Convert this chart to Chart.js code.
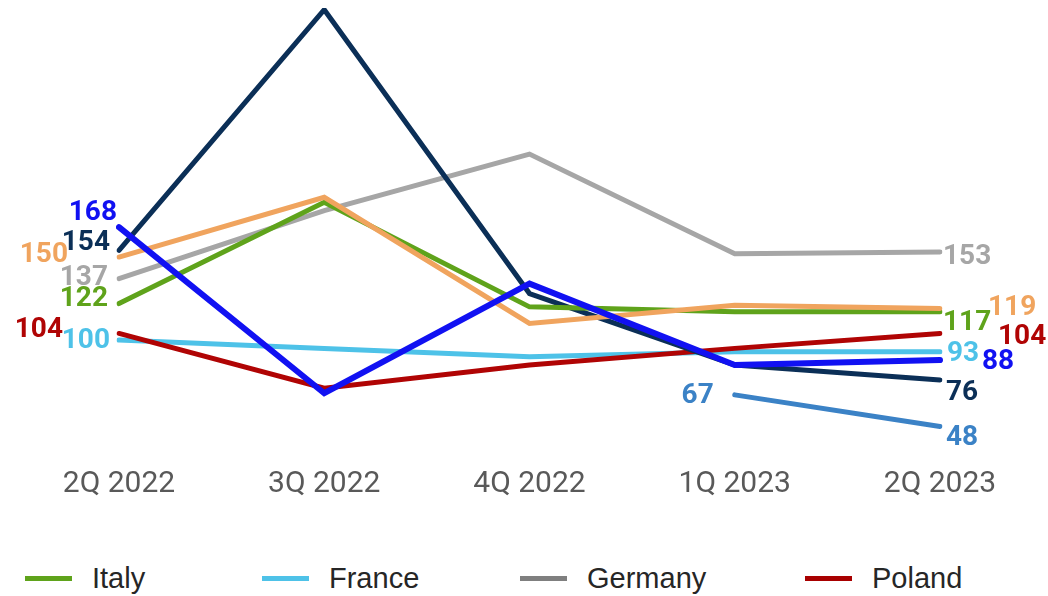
<html>
<head>
<meta charset="utf-8">
<style>
  body { margin: 0; background: #fff; }
  #wrap { position: relative; width: 1048px; height: 596px; }
  #legend { position: absolute; left: 0; top: 562px; width: 1048px; height: 32px; }
  .item { position: absolute; top: 0; height: 32px; display: flex; align-items: center;
          font-family: "Liberation Sans", Arial, sans-serif; font-size: 29px; color: #262626; }
  .item span.sw { display: inline-block; width: 47px; height: 5px; margin-right: 20px; }
</style>
</head>
<body>
<div id="wrap">
  <canvas id="myChart" width="1048" height="520"></canvas>
  <div id="legend"></div>
</div>
<script src="https://cdn.jsdelivr.net/npm/chart.js@4.4.0/dist/chart.umd.min.js"></script>
<script>
var quarters = ['2Q 2022', '3Q 2022', '4Q 2022', '1Q 2023', '2Q 2023'];

var italy   = [122, 183, 120, 117, 117];
var france  = [100, 95, 90, 93, 93];
var germany = [137, 178, 212, 152, 153];
var poland  = [104, 71, 85, 95, 104];
var spain   = [154, 299, 128, 85, 76];
var uk      = [150, 186, 110, 121, 119];
var nordics = [168, 68, 134, 85, 88];
var benelux = [null, null, null, 67, 48];

// first entry is drawn on top
var series = [
  { name: 'Nordics', data: nordics, color: '#1111f2', width: 6 },
  { name: 'UK',      data: uk,      color: '#f0a45e', width: 5 },
  { name: 'Italy',   data: italy,   color: '#5fa31b', width: 5, legend: '#5fa31b' },
  { name: 'Spain',   data: spain,   color: '#0b2f57', width: 5 },
  { name: 'Poland',  data: poland,  color: '#b00404', width: 5, legend: '#a80000' },
  { name: 'France',  data: france,  color: '#4ec2e8', width: 5, legend: '#4ec2e8' },
  { name: 'Germany', data: germany, color: '#a6a6a6', width: 5, legend: '#7f7f7f' },
  { name: 'Benelux', data: benelux, color: '#3b82c6', width: 5 }
];

// where the end-point numbers sit relative to their point: [dx, dy]
var firstNudge = { Nordics: [-2, -14], UK: [-51, -2], Italy: [-11, -5], Spain: [-9, -7],
                   Poland: [-56, -3], France: [-9, 1], Germany: [-11, -1], Benelux: [-21, 1] };
var lastNudge  = { Nordics: [42, 2], UK: [48, -1], Italy: [3, 11], Spain: [6, 13],
                   Poland: [58, 4], France: [7, 2], Germany: [3, 5], Benelux: [6, 12] };

var legendOrder = ['Italy', 'France', 'Germany', 'Poland'];
var legendLeft  = [25, 262, 520, 805];

var endLabels = {
  id: 'endLabels',
  afterDatasetsDraw: function(chart) {
    var ctx = chart.ctx;
    ctx.save();
    ctx.font = 'bold 28px Roboto, "Liberation Sans", sans-serif';
    ctx.textBaseline = 'middle';
    chart.data.datasets.forEach(function(ds, di) {
      var meta = chart.getDatasetMeta(di);
      var first = -1, last = -1;
      ds.data.forEach(function(v, i) {
        if (v === null) return;
        if (first < 0) first = i;
        last = i;
      });
      ctx.fillStyle = ds.borderColor;
      var p = meta.data[first], n = firstNudge[ds.label];
      ctx.textAlign = 'right';
      ctx.fillText(String(ds.data[first]), p.x + n[0], p.y + n[1]);
      p = meta.data[last]; n = lastNudge[ds.label];
      ctx.textAlign = 'left';
      ctx.fillText(String(ds.data[last]), p.x + n[0], p.y + n[1]);
    });
    ctx.restore();
  }
};

var ctx = document.getElementById('myChart').getContext('2d');
var chart = new Chart(ctx, {
  type: 'line',
  data: {
    labels: quarters,
    datasets: series.map(function(s) {
      return {
        label: s.name,
        data: s.data,
        borderColor: s.color,
        backgroundColor: s.color,
        borderWidth: s.width,
        pointRadius: 0,
        tension: 0,
        borderCapStyle: 'round',
        borderJoinStyle: 'miter',
        fill: false
      };
    })
  },
  options: {
    responsive: false,
    animation: false,
    layout: { padding: { left: 119, right: 108, top: 8, bottom: 0 } },
    plugins: { legend: { display: false }, tooltip: { enabled: false } },
    scales: {
      x: {
        offset: false,
        grid: { display: false },
        border: { display: false },
        ticks: { color: '#595959', padding: 10, font: { family: 'Roboto', size: 30 } },
        afterFit: function(scale) { scale.height = 72; }
      },
      y: { display: false, min: 35, max: 300 }
    }
  },
  plugins: [endLabels]
});

// legend for the four main markets
var legend = document.getElementById('legend');
legendOrder.forEach(function(name, i) {
  var s = series.filter(function(x) { return x.name === name; })[0];
  var el = document.createElement('div');
  el.className = 'item';
  el.style.left = legendLeft[i] + 'px';
  el.innerHTML = "<span class='sw' style='background:" + s.legend + "'></span>" + name;
  legend.appendChild(el);
});
</script>
</body>
</html>
